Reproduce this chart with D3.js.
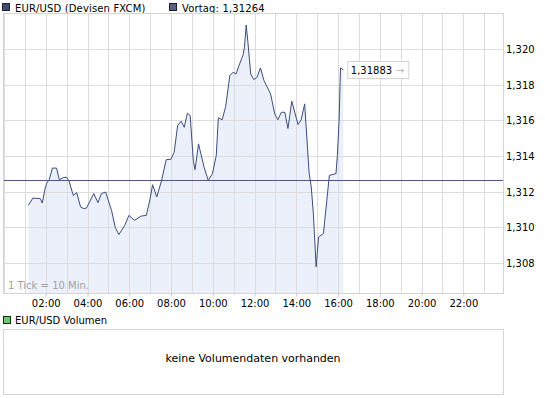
<!DOCTYPE html>
<html>
<head>
<meta charset="utf-8">
<script src="https://cdn.jsdelivr.net/npm/d3@7"></script>
<style>
    body { margin: 0; background: #fff; }
    svg text { font-family: "DejaVu Sans", Verdana, sans-serif; font-size: 10px; fill: #000; }
    .grid line { stroke: #dcdcdc; shape-rendering: crispEdges; }
    .frame { fill: none; stroke: #d4d4d4; shape-rendering: crispEdges; }
</style>
</head>
<body>
<div id="chart"></div>
<script>
// intraday EUR/USD quotes
const times = ['01:10', '01:23', '01:44', '01:50', '01:58', '02:03', '02:10', '02:19', '02:31', '02:39',
    '02:50', '03:00', '03:07', '03:19', '03:29', '03:40', '03:49', '03:57', '04:18', '04:30',
    '04:40', '04:52', '05:09', '05:20', '05:30', '05:47', '05:59', '06:15', '06:34', '06:49',
    '07:00', '07:07', '07:19', '07:33', '07:46', '08:00', '08:09', '08:19', '08:29', '08:38',
    '08:47', '08:55', '09:04', '09:09', '09:19', '09:35', '09:47', '09:59', '10:10', '10:16',
    '10:27', '10:37', '10:49', '10:58', '11:07', '11:17', '11:27', '11:31', '11:36', '11:41',
    '11:49', '11:58', '12:07', '12:17', '12:27', '12:46', '12:58', '13:07', '13:17', '13:27',
    '13:36', '13:47', '14:05', '14:14', '14:24', '14:37', '14:43', '14:49', '14:57', '15:04',
    '15:18', '15:35', '15:54', '15:58', '16:03', '16:07', '16:15'];
const prices = [1.31123, 1.31164, 1.31161, 1.31136, 1.31217, 1.31248, 1.31267, 1.31332, 1.31332, 1.31267,
    1.31278, 1.31281, 1.31259, 1.31179, 1.31194, 1.31114, 1.31105, 1.31108, 1.31189, 1.31138,
    1.31189, 1.31198, 1.31095, 1.30998, 1.30959, 1.31011, 1.31067, 1.31039, 1.31063, 1.31067,
    1.31161, 1.31239, 1.31170, 1.31263, 1.31379, 1.31382, 1.31421, 1.31571, 1.31595, 1.31561,
    1.31640, 1.31627, 1.31375, 1.31323, 1.31468, 1.31337, 1.31263, 1.31301, 1.31403, 1.31614,
    1.31603, 1.31677, 1.31851, 1.31869, 1.31860, 1.31916, 1.31966, 1.32009, 1.32134, 1.32037,
    1.31860, 1.31828, 1.31841, 1.31894, 1.31823, 1.31748, 1.31636, 1.31603, 1.31645, 1.31645,
    1.31554, 1.31707, 1.31576, 1.31603, 1.31692, 1.31301, 1.31226, 1.31077, 1.30778, 1.30946,
    1.30965, 1.31291, 1.31301, 1.31403, 1.31599, 1.31894, 1.31883];

const previousClose = 1.31264;
const lastPrice = 1.31883;
const yTicks = [1.308, 1.310, 1.312, 1.314, 1.316, 1.318, 1.320];
const xTickLabels = ['02:00', '04:00', '06:00', '08:00', '10:00', '12:00', '14:00', '16:00', '18:00', '20:00', '22:00'];
const gridHours = d3.range(0, 24);

const toMinutes = s => {
    const [h, m] = s.split(':').map(Number);
    return h * 60 + m;
};
const fmt = v => d3.format('.3f')(v).replace('.', ',');
const fmt5 = v => d3.format('.5f')(v).replace('.', ',');

const width = 545, height = 398;
const plot = { left: 3.5, right: 503.5, top: 13.5, bottom: 293.5 };

const svg = d3.select('#chart').append('svg')
    .attr('width', width)
    .attr('height', height);

const xScale = d3.scaleLinear()
    .domain([0, 1434])
    .range([4, 503]);

const yScale = d3.scaleLinear()
    .domain([1.3063, 1.3220])
    .range([293.3, 13.3]);

const data = times.map((t, i) => ({ m: toMinutes(t), v: prices[i] }));

// legend
const legend = [
    { x: 2, label: 'EUR/USD (Devisen FXCM)', fill: '#3e4c74' },
    { x: 169, label: 'Vortag: ' + fmt5(previousClose), fill: '#5a6182' }
];
const lg = svg.append('g').selectAll('g').data(legend).join('g')
    .attr('transform', d => `translate(${d.x},3)`);
lg.append('rect')
    .attr('x', 0.5).attr('y', 0.5)
    .attr('width', 7).attr('height', 7)
    .attr('fill', d => d.fill)
    .attr('stroke', '#222');
lg.append('text')
    .attr('x', 13).attr('y', 8.5)
    .style('letter-spacing', '0.15px')
    .text(d => d.label);

// grid lines
const grid = svg.append('g').attr('class', 'grid');
grid.selectAll('.vgrid').data(gridHours).join('line')
    .attr('class', 'vgrid')
    .attr('x1', d => Math.round(xScale(d * 60)) + 0.5)
    .attr('x2', d => Math.round(xScale(d * 60)) + 0.5)
    .attr('y1', plot.top).attr('y2', plot.bottom);

grid.selectAll('.hgrid').data(yTicks).join('line')
    .attr('class', 'hgrid')
    .attr('x1', plot.left).attr('x2', plot.right)
    .attr('y1', d => Math.round(yScale(d)) + 0.5)
    .attr('y2', d => Math.round(yScale(d)) + 0.5);

// area under the line
const area = d3.area()
    .x(d => xScale(d.m))
    .y0(plot.bottom)
    .y1(d => yScale(d.v));

const line = d3.line()
    .x(d => xScale(d.m))
    .y(d => yScale(d.v));

svg.append('path')
    .datum(data)
    .attr('d', area)
    .attr('fill', '#e9edf9')
    .attr('fill-opacity', 0.85);

// grid stays visible through the fill
grid.raise();

svg.append('path')
    .datum(data)
    .attr('d', line)
    .attr('fill', 'none')
    .attr('stroke', '#3b4d7d')
    .attr('stroke-width', 1);

// previous close
svg.append('line')
    .attr('x1', plot.left).attr('x2', plot.right)
    .attr('y1', Math.round(yScale(previousClose)) + 0.5)
    .attr('y2', Math.round(yScale(previousClose)) + 0.5)
    .attr('stroke', '#4c5880')
    .attr('stroke-width', 1)
    .style('shape-rendering', 'crispEdges');

svg.append('rect')
    .attr('class', 'frame')
    .attr('x', plot.left).attr('y', plot.top)
    .attr('width', plot.right - plot.left)
    .attr('height', plot.bottom - plot.top);

// last price label
const last = data[data.length - 1];
const lx = xScale(last.m) + 4.5;
const ly = Math.round(yScale(lastPrice));
const lab = svg.append('g').attr('transform', `translate(${lx},${ly - 8.5})`);
lab.append('rect')
    .attr('width', 61).attr('height', 17)
    .attr('fill', '#fff')
    .attr('stroke', '#d4d4d4');
lab.append('text')
    .attr('x', 3).attr('y', 12.5)
    .text(fmt5(lastPrice));
lab.append('text')
    .attr('x', 48).attr('y', 12.5)
    .style('fill', '#b4b4b4')
    .text('→');

// y axis labels
svg.append('g').selectAll('text').data(yTicks).join('text')
    .attr('x', 506)
    .attr('y', d => yScale(d) + 4)
    .text(d => fmt(d));

// x axis
const xAxis = d3.axisBottom(xScale)
    .tickValues(xTickLabels.map(toMinutes))
    .tickSize(3)
    .tickFormat((d, i) => xTickLabels[i]);

svg.append('g')
    .attr('transform', `translate(0,${plot.bottom})`)
    .call(xAxis)
    .call(g => g.select('.domain').remove())
    .call(g => g.selectAll('.tick line').attr('stroke', '#c8c8c8'))
    .call(g => g.selectAll('.tick text')
        .attr('y', 6)
        .attr('dy', '0.71em')
        .style('font-family', '"DejaVu Sans", Verdana, sans-serif')
        .style('font-size', '10px'));

svg.append('text')
    .attr('x', 8).attr('y', 289)
    .style('fill', '#a0a0a0')
    .text('1 Tick = 10 Min.');

// volume panel
const vol = svg.append('g');
vol.append('rect')
    .attr('x', 3.5).attr('y', 316.5)
    .attr('width', 7).attr('height', 7)
    .attr('fill', '#66cc66')
    .attr('stroke', '#222');
vol.append('text')
    .attr('x', 15).attr('y', 324)
    .text('EUR/USD Volumen');
vol.append('rect')
    .attr('class', 'frame')
    .attr('x', plot.left).attr('y', 329.5)
    .attr('width', plot.right - plot.left)
    .attr('height', 65);
vol.append('text')
    .attr('x', 253)
    .attr('y', 362)
    .attr('text-anchor', 'middle')
    .style('font-size', '11px')
    .text('keine Volumendaten vorhanden');
</script>
</body>
</html>
